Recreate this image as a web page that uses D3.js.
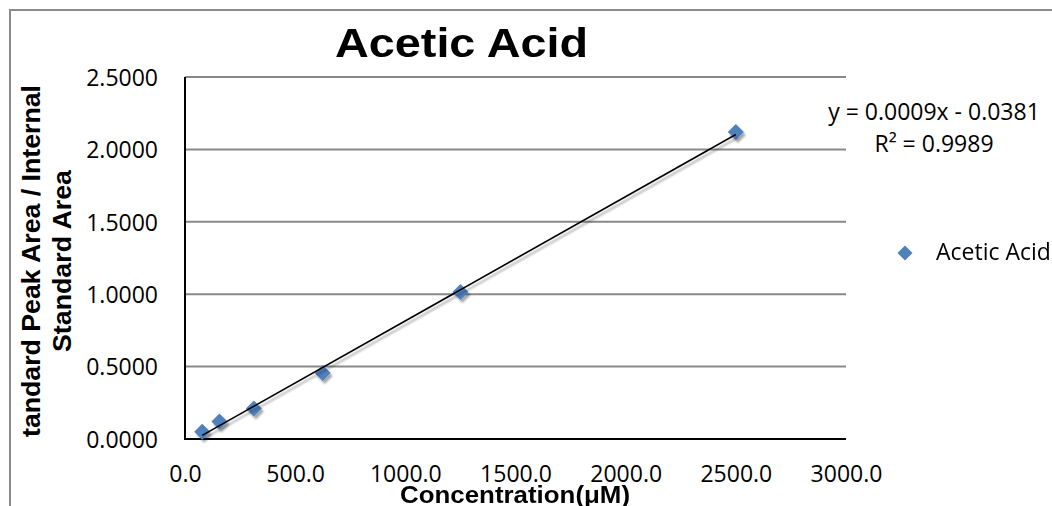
<!DOCTYPE html>
<html>
<head>
<meta charset="utf-8">
<script src="https://cdn.jsdelivr.net/npm/d3@7"></script>
<style>
  html, body { margin: 0; padding: 0; background: #fff; }
  svg { display: block; }
</style>
</head>
<body>
<svg id="chart" width="1052" height="506"></svg>
<script>
// ---- data ----
const concentrations = [78.125, 156.25, 312.5, 625, 1250, 2500];
const ratios = [0.05, 0.12, 0.21, 0.455, 1.015, 2.12];
const xTicks = [0, 500, 1000, 1500, 2000, 2500, 3000];
const yTicks = [0, 0.5, 1.0, 1.5, 2.0, 2.5];
const seriesName = "Acetic Acid";
const chartTitle = "Acetic Acid";
const xTitle = "Concentration(μM)";
const yTitleLines = ["tandard Peak Area / Internal", "Standard Area"];
const equationLines = ["y = 0.0009x - 0.0381", "R² = 0.9989"];

// ---- layout ----
const svg = d3.select("#chart");
const plot = { left: 185, right: 846, top: 77, bottom: 439 };
const x = d3.scaleLinear().domain([0, 3000]).range([plot.left, plot.right]);
const y = d3.scaleLinear().domain([0, 2.5]).range([plot.bottom, plot.top]);
const blue = "#4F81BD";
const numFont = "'Open Sans', 'Noto Sans', sans-serif";
const boldFont = "'Liberation Sans', Arial, sans-serif";

// shadow filter
const defs = svg.append("defs");
const f = defs.append("filter").attr("id", "shadow").attr("x", "-20%").attr("y", "-20%").attr("width", "140%").attr("height", "140%");
f.append("feGaussianBlur").attr("in", "SourceAlpha").attr("stdDeviation", 1.2).attr("result", "b");
f.append("feOffset").attr("in", "b").attr("dx", 2).attr("dy", 2.5).attr("result", "o");
f.append("feComponentTransfer").attr("in", "o").attr("result", "s")
  .append("feFuncA").attr("type", "linear").attr("slope", 0.35);
const fm = f.append("feMerge");
fm.append("feMergeNode").attr("in", "s");
fm.append("feMergeNode").attr("in", "SourceGraphic");

// outer border
svg.append("rect").attr("x", 10).attr("y", 10).attr("width", 1100).attr("height", 600)
  .attr("fill", "none").attr("stroke", "#8a8a8a").attr("stroke-width", 2);

// gridlines
svg.append("g").selectAll("line").data(yTicks.filter(d => d > 0)).join("line")
  .attr("x1", plot.left).attr("x2", plot.right)
  .attr("y1", d => y(d)).attr("y2", d => y(d))
  .attr("stroke", "#898989").attr("stroke-width", 2);

// y axis labels
const yAxis = d3.axisLeft(y).tickValues(yTicks).tickFormat(d3.format(".4f")).tickSize(0).tickPadding(27);
const gy = svg.append("g").attr("transform", `translate(${plot.left},0)`).call(yAxis);
gy.select(".domain").remove();
gy.selectAll("text").attr("font-family", numFont).attr("font-size", 23).attr("fill", "#000").attr("dy", "0.36em");

// x axis labels
const xAxis = d3.axisBottom(x).tickValues(xTicks).tickFormat(d3.format(".1f")).tickSize(0).tickPadding(0);
const gx = svg.append("g").attr("transform", `translate(0,${plot.bottom})`).call(xAxis);
gx.select(".domain").remove();
gx.selectAll("text").attr("font-family", numFont).attr("font-size", 23).attr("fill", "#000").attr("dy", 0).attr("y", 43);

// axis lines
svg.append("line").attr("x1", plot.left).attr("x2", plot.left).attr("y1", plot.top).attr("y2", plot.bottom + 1)
  .attr("stroke", "#000").attr("stroke-width", 2);
svg.append("line").attr("x1", plot.left - 1).attr("x2", plot.right).attr("y1", plot.bottom).attr("y2", plot.bottom)
  .attr("stroke", "#000").attr("stroke-width", 2.2);

// markers
const pts = concentrations.map((c, i) => [c, ratios[i]]);
const diamond = (s) => `M0,${-s}L${s},0L0,${s}L${-s},0Z`;
svg.append("g").attr("filter", "url(#shadow)").selectAll("path").data(pts).join("path")
  .attr("d", diamond(8))
  .attr("transform", d => `translate(${x(d[0])},${y(d[1])})`)
  .attr("fill", blue);

// linear trendline (least squares fit of the data)
const mx = d3.mean(concentrations), my = d3.mean(ratios);
let sxy = 0, sxx = 0;
pts.forEach(([a, b]) => { sxy += (a - mx) * (b - my); sxx += (a - mx) * (a - mx); });
const slope = sxy / sxx, intercept = my - slope * mx;
const x0 = d3.min(concentrations), x1 = d3.max(concentrations);
svg.append("line").attr("filter", "url(#shadow)")
  .attr("x1", x(x0)).attr("y1", y(slope * x0 + intercept))
  .attr("x2", x(x1)).attr("y2", y(slope * x1 + intercept))
  .attr("stroke", "#000").attr("stroke-width", 1.6);

// equation
svg.append("g").selectAll("text").data(equationLines).join("text")
  .attr("x", 934).attr("y", (d, i) => 120 + i * 31.5)
  .attr("text-anchor", "middle").attr("font-family", numFont).attr("font-size", 23).attr("fill", "#000")
  .text(d => d);

// legend
svg.append("path").attr("d", diamond(7.5)).attr("transform", "translate(905,253)").attr("fill", blue);
svg.append("text").attr("x", 936).attr("y", 260).attr("font-family", numFont).attr("font-size", 23)
  .attr("fill", "#000").text(seriesName);

// title
svg.append("text").attr("x", 461.5).attr("y", 57).attr("text-anchor", "middle")
  .attr("font-family", boldFont).attr("font-weight", "bold").attr("font-size", 41)
  .attr("textLength", 253).attr("lengthAdjust", "spacingAndGlyphs").text(chartTitle);

// x title
svg.append("text").attr("x", 515).attr("y", 503).attr("text-anchor", "middle")
  .attr("font-family", boldFont).attr("font-weight", "bold").attr("font-size", 24)
  .attr("textLength", 230).attr("lengthAdjust", "spacingAndGlyphs").text(xTitle);

// y title
const yt = [{ t: yTitleLines[0], bx: 40, len: 352 }, { t: yTitleLines[1], bx: 71, len: 182 }];
yt.forEach(d => {
  svg.append("text").attr("transform", `translate(${d.bx},261) rotate(-90)`)
    .attr("text-anchor", "middle").attr("font-family", boldFont).attr("font-weight", "bold")
    .attr("font-size", 25).attr("textLength", d.len).attr("lengthAdjust", "spacingAndGlyphs").text(d.t);
});
</script>
</body>
</html>
